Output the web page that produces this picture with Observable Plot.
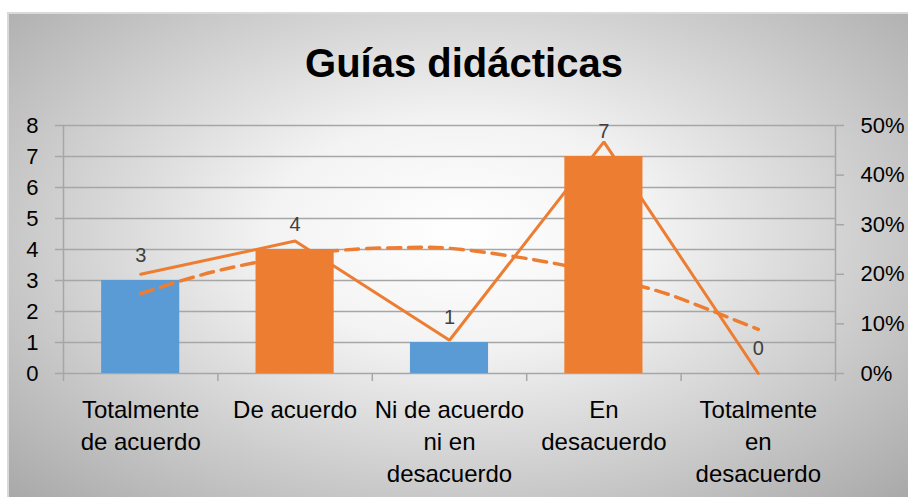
<!DOCTYPE html>
<html>
<head>
<meta charset="utf-8">
<script src="https://cdn.jsdelivr.net/npm/d3@7"></script>
<script src="https://cdn.jsdelivr.net/npm/@observablehq/plot@0.6"></script>
<style>
  html, body { margin: 0; padding: 0; background: #ffffff; }
  #wrap { position: relative; width: 908px; height: 497px; overflow: hidden; background: #ffffff; font-family: "Liberation Sans", Arial, sans-serif; }
  #bg { position: absolute; left: 7px; top: 12px; width: 905px; height: 490px; box-sizing: border-box;
        border: 2px solid #d9d9d9;
        background: radial-gradient(ellipse farthest-corner at 50% 45%, #ffffff 0%, #f3f3f3 30%, #a8a8a8 100%); }
  #title { position: absolute; left: 0; width: 928px; top: 41px; text-align: center; font-size: 40px; font-weight: bold; color: #000; }
  #chart { position: absolute; left: 0; top: 100px; }
</style>
</head>
<body>
<div id="wrap">
  <div id="bg"></div>
  <div id="title">Guías didácticas</div>
  <div id="chart"></div>
</div>
<script>
const categories = ["Totalmente de acuerdo", "De acuerdo", "Ni de acuerdo ni en desacuerdo", "En desacuerdo", "Totalmente en desacuerdo"];
const categoryLabels = ["Totalmente\nde acuerdo", "De acuerdo", "Ni de acuerdo\nni en\ndesacuerdo", "En\ndesacuerdo", "Totalmente\nen\ndesacuerdo"];
const counts = [3, 4, 1, 7, 0];
const barColors = ["#5B9BD5", "#ED7D31", "#5B9BD5", "#ED7D31", "#ED7D31"];
const percents = [0.20, 0.267, 0.067, 0.467, 0.0];
// dashed trend line (position in category units, percent)
const trendPos = [1, 1.35, 1.75, 2.28, 2.73, 3.08, 3.68, 4.0, 4.32, 4.58, 5];
const trendPct = [0.161, 0.195, 0.224, 0.248, 0.254, 0.250, 0.222, 0.196, 0.169, 0.141, 0.089];
const leftTicks = [0, 1, 2, 3, 4, 5, 6, 7, 8];
const rightTicks = [0, 0.1, 0.2, 0.3, 0.4, 0.5];
const PCT_SCALE = 8 / 0.5; // 50% on right axis aligns with 8 on left axis

const bars = categories.map((c, k) => ({pos: k + 1, cat: c, label: categoryLabels[k], v: counts[k], color: barColors[k], pct: percents[k]}));
const trend = trendPos.map((p, k) => ({pos: p, pct: trendPct[k]}));
const boundaries = d3.range(0, categories.length + 1).map(k => k + 0.5);
const halfBar = 0.253;

const gridColor = "#a6a6a6";
const orange = "#ED7D31";

const plot = Plot.plot({
  width: 908,
  height: 397,
  marginTop: 25,
  marginBottom: 124,
  marginLeft: 63,
  marginRight: 73,
  style: {background: "transparent", fontFamily: "'Liberation Sans', Arial, sans-serif", overflow: "visible"},
  x: {type: "linear", domain: [0.5, categories.length + 0.5], axis: null},
  y: {domain: [0, 8], axis: null},
  marks: [
    Plot.ruleY(leftTicks, {x1: 0.5, x2: categories.length + 0.5, y: d => d, stroke: gridColor, strokeWidth: 1.5}),
    Plot.axisY({anchor: "left", ticks: leftTicks, tickSize: 8, tickPadding: 17, stroke: gridColor, strokeWidth: 1.5, fill: "#000", strokeOpacity: 1, fontSize: 22, label: null}),
    Plot.axisY({anchor: "right", ticks: rightTicks.map(t => t * PCT_SCALE), tickSize: 8, tickPadding: 17, stroke: gridColor, strokeWidth: 1.5, fill: "#000", strokeOpacity: 1, fontSize: 22, label: null,
      tickFormat: d => Math.round(d / PCT_SCALE * 100) + "%"}),
    Plot.axisX({ticks: boundaries, tickSize: 8, stroke: gridColor, strokeWidth: 1.5, strokeOpacity: 1, tickFormat: () => "", label: null}),
    Plot.ruleX([0.5, categories.length + 0.5], {y1: 0, y2: 8, stroke: gridColor, strokeWidth: 1.5}),
    Plot.rectY(bars, {x1: d => d.pos - halfBar, x2: d => d.pos + halfBar, y1: 0, y2: "v", fill: "color"}),
    Plot.line(trend, {x: "pos", y: d => d.pct * PCT_SCALE, stroke: orange, strokeWidth: 3.5, strokeDasharray: "13,8", curve: "natural"}),
    Plot.line(bars, {x: "pos", y: d => d.pct * PCT_SCALE, stroke: orange, strokeWidth: 3, strokeLinejoin: "miter"}),
    Plot.text(bars, {x: "pos", y: "v", text: d => String(d.v), dy: -25, fill: "#404040", fontSize: 20}),
    Plot.text(bars, {x: "pos", y: 0, text: "label", dy: 22, lineAnchor: "top", lineHeight: 1.33, fill: "#000", fontSize: 24})
  ]
});
document.getElementById("chart").appendChild(plot);
</script>
</body>
</html>
